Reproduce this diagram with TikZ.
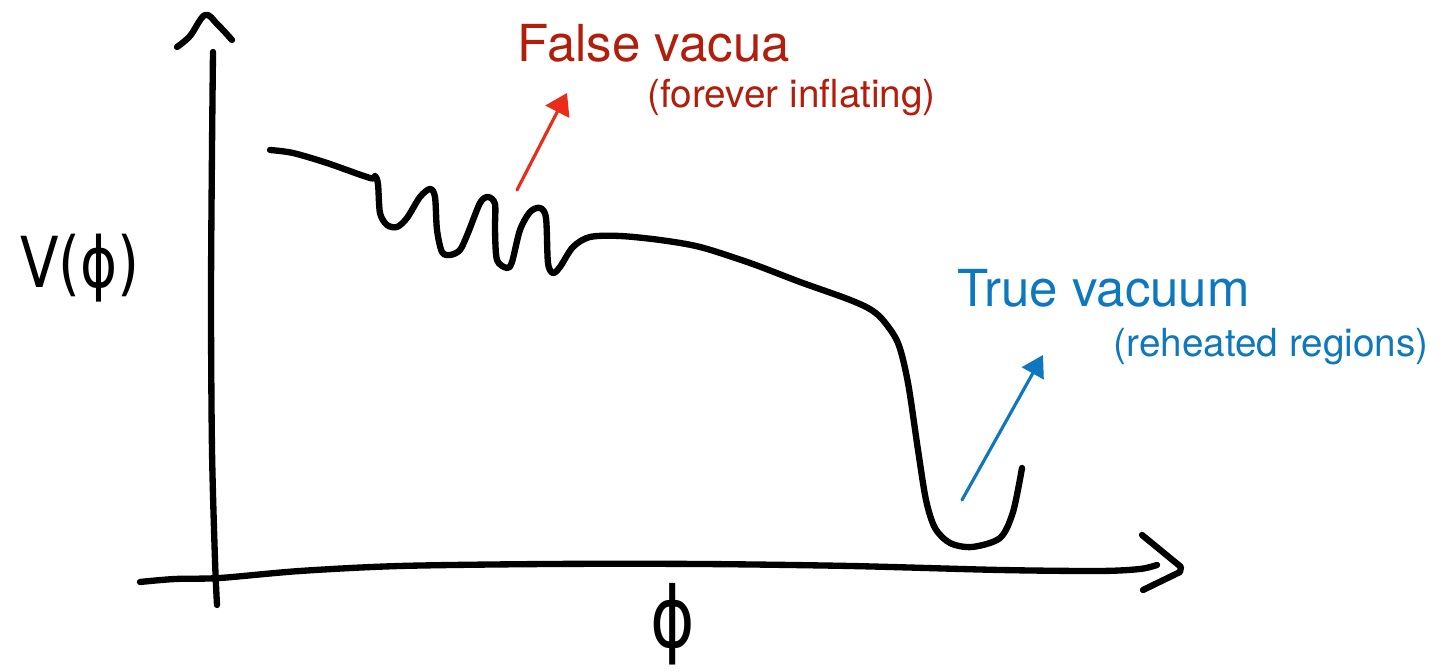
\documentclass[tikz,border=0pt]{standalone}
\usepackage{fontspec}
\setmainfont{TeX Gyre Heros}
\newfontfamily\handfont{DejaVu Sans}
\usetikzlibrary{arrows.meta}

\definecolor{falsered}{RGB}{178,30,12}
\definecolor{arrowred}{RGB}{234,44,26}
\definecolor{trueblue}{RGB}{14,120,190}

\tikzset{
  pen/.style={line width=1.8pt,black},
  redarrow/.style={line width=0.9pt,arrowred,-{Triangle[length=6pt,width=7.5pt]}},
  bluearrow/.style={line width=0.9pt,trueblue,-{Triangle[length=6pt,width=7pt]}},
  biglabel/.style={anchor=base west,inner sep=0pt,font=\fontsize{14.5}{16}\selectfont},
  smalllabel/.style={anchor=base west,inner sep=0pt,font=\fontsize{11}{13}\selectfont},
  handtext/.style={inner sep=0pt,font=\handfont}
}

\begin{document}
\begin{tikzpicture}[x=0.01cm,y=-0.01cm,line cap=round,line join=round]
  \useasboundingbox (0,0) rectangle (1439,671);
  % axes
  \draw[pen] plot[smooth,tension=0.5] coordinates {(213,52) (212,150) (211,300) (212,450) (215,560) (217,605)};
  \draw[pen] plot[smooth,tension=0.6] coordinates {(177,47) (190,36) (205,15) (218,25) (232,40)};
  \draw[pen] plot[smooth,tension=0.5] coordinates {(140,582) (175,579) (220,578) (300,571) (400,566) (550,564) (700,564) (850,566) (1000,570) (1100,571) (1140,569) (1157,565)};
  \draw[pen] (1142,535) -- (1181,567) -- (1180,572) -- (1143,590);
  \node[handtext,font=\handfont\fontsize{20}{22}\selectfont,xscale=0.8,transform shape] (vlabel) at (80,268) {V(ϕ)};
  \node[handtext,font=\handfont\fontsize{24}{26}\selectfont,xscale=0.8,transform shape] (philabel) at (673,624) {ϕ};
  % potential
  \draw[pen] plot[smooth,tension=0.5] coordinates {(270,150) (293,153) (327,163) (370,178) (375,176) (378,184) (380,213) (387,225) (397,227) (407,218) (420,197) (430,189) (435,197) (437,230) (442,252) (450,255) (460,250) (468,233) (480,203) (488,197) (495,204) (495,230) (497,260) (507,268) (512,262) (520,230) (530,212) (540,208) (546,218) (548,263) (553,273) (560,267) (573,247) (590,237) (620,236) (660,240) (700,247) (750,263) (800,282) (845,298) (868,308) (882,319) (898,343) (908,383) (918,450) (926,500) (935,528) (950,543) (972,547) (1000,538) (1013,512) (1022,468)};
  % labels
  \node[biglabel,text=falsered] (falselabel) at (517,62) {False vacua};
  \node[smalllabel,text=falsered] (falsenote) at (647,108) {(forever inflating)};
  \node[biglabel,text=trueblue] (truelabel) at (957,307) {True vacuum};
  \node[smalllabel,text=trueblue] (truenote) at (1113,357) {(reheated regions)};
  \coordinate (falsetail) at (517,190);
  \coordinate (falsetip) at (567,93);
  \coordinate (truetail) at (962,500);
  \coordinate (truetip) at (1043,355);
  \draw[redarrow] (falsetail) -- (falsetip);
  \draw[bluearrow] (truetail) -- (truetip);
\end{tikzpicture}
\end{document}
